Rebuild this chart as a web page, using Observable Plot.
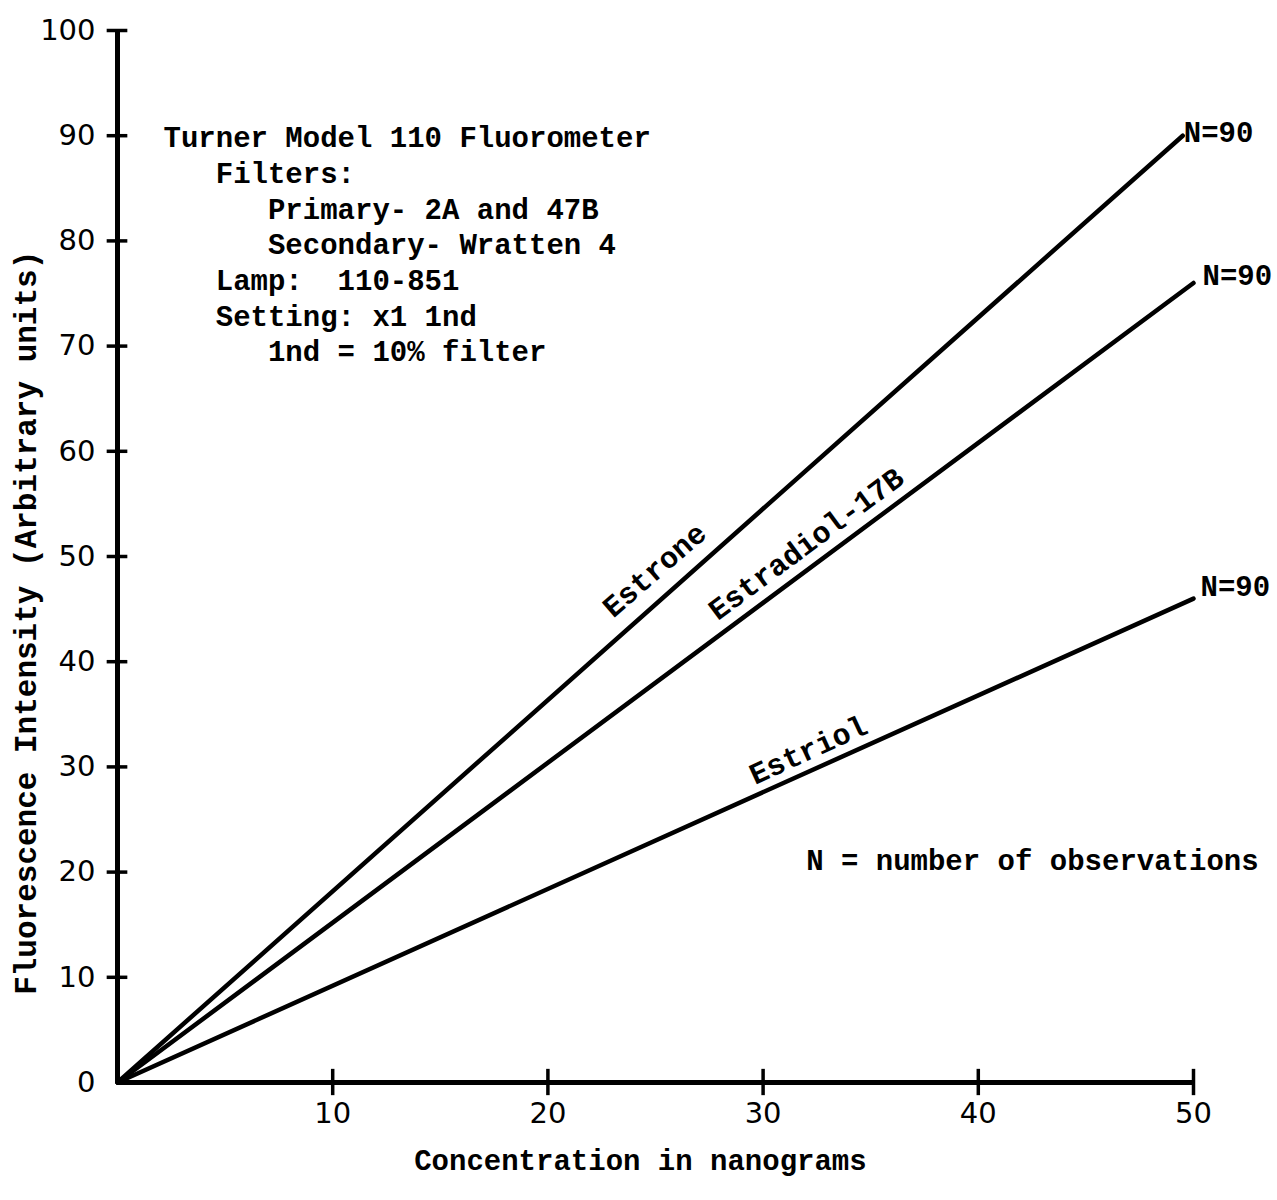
<!DOCTYPE html>
<html>
<head>
<meta charset="utf-8">
<script src="https://cdn.jsdelivr.net/npm/d3@7"></script>
<script src="https://cdn.jsdelivr.net/npm/@observablehq/plot@0.6"></script>
<style>
  html, body { margin: 0; padding: 0; background: #fff; }
  #chart svg { display: block; }
</style>
</head>
<body>
<div id="chart"></div>
<script>
// ---- data ----
const compounds = ["Estrone", "Estradiol-17B", "Estriol"];
const startConcentration = [0, 0, 0];
const startIntensity = [0, 0, 0];
const endConcentration = [49.5, 50, 50];
const endIntensity = [90, 76, 46];
const observations = [90, 90, 90];

const xTicks = [10, 20, 30, 40, 50];
const yTicks = [0, 10, 20, 30, 40, 50, 60, 70, 80, 90, 100];

const xAxisLabel = "Concentration in nanograms";
const yAxisLabel = "Fluorescence Intensity (Arbitrary units)";
const noteLines = [
  "Turner Model 110 Fluorometer",
  "   Filters:",
  "      Primary- 2A and 47B",
  "      Secondary- Wratten 4",
  "   Lamp:  110-851",
  "   Setting: x1 1nd",
  "      1nd = 10% filter"
];
const footnote = "N = number of observations";

// ---- tables built from the arrays ----
const lineData = compounds.flatMap((c, i) => [
  {compound: c, x: startConcentration[i], y: startIntensity[i]},
  {compound: c, x: endConcentration[i], y: endIntensity[i]}
]);
const endData = compounds.map((c, i) => ({
  compound: c, x: endConcentration[i], y: endIntensity[i], label: `N=${observations[i]}`
}));
const noteText = noteLines.map(s => s.replace(/^ +/, m => "\u00a0".repeat(m.length))).join("\n");

const TYPE = "'Liberation Mono', 'Courier New', monospace";
const DIGITS = "'DejaVu Sans', sans-serif";
const ink = "#000";

// crossing tick half-lengths (in scale units, ≈10px each way)
const yTickHalf = 0.48;
const xTickHalf = 1.25;

const chart = Plot.plot({
  width: 1277,
  height: 1200,
  marginLeft: 117,
  marginRight: 84,
  marginTop: 30,
  marginBottom: 118,
  style: {background: "#fff", color: ink, fontFamily: TYPE},
  x: {domain: [0, 50]},
  y: {domain: [0, 100]},
  marks: [
    // axis lines
    Plot.ruleX([0], {stroke: ink, strokeWidth: 5}),
    Plot.ruleY([0], {stroke: ink, strokeWidth: 5}),
    // crossing tick marks
    Plot.ruleY(yTicks.filter(d => d > 0), {y: d => d, x1: () => -yTickHalf, x2: () => yTickHalf, stroke: ink, strokeWidth: 3.5}),
    Plot.ruleX(xTicks, {x: d => d, y1: () => -xTickHalf, y2: () => xTickHalf, stroke: ink, strokeWidth: 3.5}),
    // tick labels
    Plot.axisY(yTicks, {tickSize: 0, tickPadding: 22, fontSize: 29, fontFamily: DIGITS, fill: ink, label: null}),
    Plot.axisX(xTicks, {tickSize: 0, tickPadding: 20, fontSize: 29, fontFamily: DIGITS, fill: ink, label: null}),
    // series lines
    Plot.line(lineData, {x: "x", y: "y", z: "compound", stroke: ink, strokeWidth: 4.5, strokeLinecap: "round"}),
    // N labels at line ends
    Plot.text(endData.slice(0, 1), {x: "x", y: "y", text: "label", textAnchor: "start", dx: 1, dy: -3, fontSize: 29, fontWeight: "bold", fill: ink}),
    Plot.text(endData.slice(1, 2), {x: "x", y: "y", text: "label", textAnchor: "start", dx: 9, dy: -7, fontSize: 29, fontWeight: "bold", fill: ink}),
    Plot.text(endData.slice(2, 3), {x: "x", y: "y", text: "label", textAnchor: "start", dx: 7, dy: -12, fontSize: 29, fontWeight: "bold", fill: ink}),
    // labels along the lines
    Plot.text([compounds[0]], {x: () => 24.95, y: () => 48.7, text: d => d, rotate: -41, fontSize: 30, fontWeight: "bold", fill: ink}),
    Plot.text([compounds[1]], {x: () => 32.0, y: () => 51.2, text: d => d, rotate: -36.5, fontSize: 30, fontWeight: "bold", fill: ink}),
    Plot.text([compounds[2]], {x: () => 32.1, y: () => 31.6, text: d => d, rotate: -24.5, fontSize: 30, fontWeight: "bold", fill: ink}),
    // instrument note
    Plot.text([noteText], {x: () => 2.14, y: () => 91.3, text: d => d, textAnchor: "start", lineAnchor: "top", lineHeight: 1.23, fontSize: 29, fontWeight: "bold", fill: ink}),
    // footnote
    Plot.text([footnote], {x: () => 32.0, y: () => 21.1, text: d => d, textAnchor: "start", fontSize: 29, fontWeight: "bold", fill: ink}),
    // axis titles
    Plot.text([xAxisLabel], {x: () => 24.3, y: () => -7.4, text: d => d, fontSize: 29, fontWeight: "bold", fill: ink}),
    Plot.text([yAxisLabel], {x: () => -4.27, y: () => 43.7, text: d => d, rotate: -90, fontSize: 31, fontWeight: "bold", fill: ink})
  ]
});
document.getElementById("chart").append(chart);
</script>
</body>
</html>
